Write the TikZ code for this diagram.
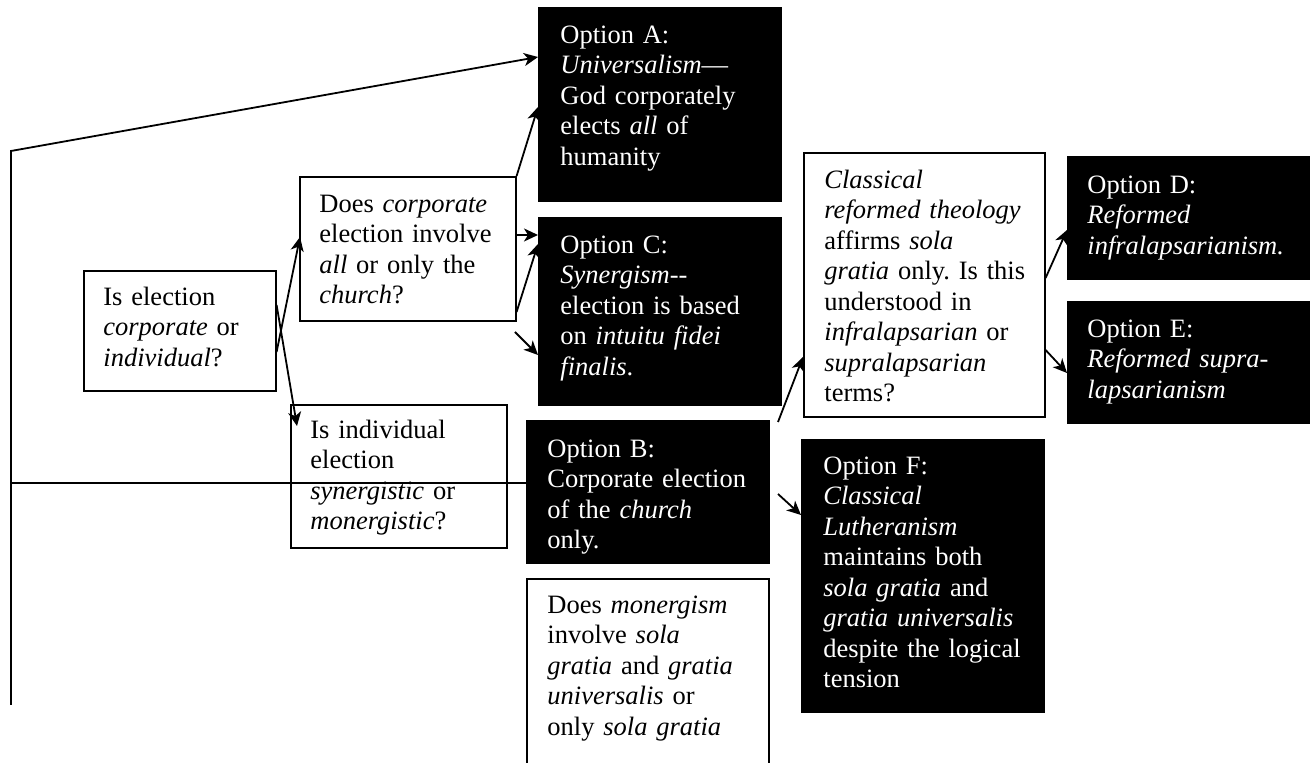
\documentclass[tikz,border=0pt]{standalone}
\usepackage{fontspec}
\setmainfont{Liberation Serif}
\usetikzlibrary{arrows.meta,calc}
\frenchspacing
\begin{document}
\begin{tikzpicture}[x=0.5pt,y=-0.5pt,
  wbox/.style={draw=black, line width=0.8pt, fill=white, inner sep=0pt, anchor=north west},
  bbox/.style={draw=black, line width=0.8pt, fill=black, inner sep=0pt, anchor=north west},
  wtxt/.style={anchor=north west, inner sep=0pt, text width=118pt, align=left,
    font=\fontsize{13.25}{15.25}\selectfont, text=black},
  btxt/.style={wtxt, text=white},
  conn/.style={line width=0.9pt, draw=black},
  arr/.style={conn, -{Stealth[length=7pt,width=6.5pt,inset=2pt]}}
]
\clip (0,0) rectangle (1313,763);
\fill[white] (0,0) rectangle (1313,763);

% boxes
\node[wbox, minimum width=96pt, minimum height=60pt] (Q1) at (83,270) {};
\node[wbox, minimum width=108pt, minimum height=72pt] (Q2) at (299,176) {};
\node[bbox, minimum width=121pt, minimum height=96.5pt] (A) at (538,7) {};
\node[bbox, minimum width=121pt, minimum height=93.5pt] (C) at (538,217) {};
\node[wbox, minimum width=108pt, minimum height=71.5pt] (Q3) at (290,404) {};
\node[bbox, minimum width=121pt, minimum height=71pt] (B) at (526,420) {};
\node[wbox, minimum width=121pt, minimum height=106pt] (Q4) at (526,578) {};
\node[wbox, minimum width=120.5pt, minimum height=132pt] (Cl) at (803,152) {};
\node[bbox, minimum width=120.5pt, minimum height=61pt] (D) at (1067,156) {};
\node[bbox, minimum width=120.5pt, minimum height=60.5pt] (E) at (1067,301) {};
\node[bbox, minimum width=121pt, minimum height=136pt] (F) at (801,439) {};

% texts
\node[wtxt] (Q1t) at (103,283.65) {\strut Is election\\\textit{corporate} or\\\textit{individual}?};
\node[wtxt] (Q2t) at (319,190.65) {\strut\makebox[88pt][s]{Does \textit{corporate}}\\
  \makebox[88pt][s]{election involve}\\\makebox[88pt][s]{\textit{all} or only the}\\\textit{church}?};
\node[btxt] (At) at (560,21.65) {\strut Option A:\\\textit{Universalism}---\\God corporately\\elects \textit{all} of\\humanity};
\node[btxt] (Ct) at (560,231.65) {\strut Option C:\\\textit{Synergism}-{}-\\election is based\\on \textit{intuitu fidei}\\\textit{finalis}.};
\node[wtxt] (Q3t) at (310,416.65) {\strut Is individual\\election\\\textit{synergistic} or\\\textit{monergistic}?};
\node[btxt] (Bt) at (547,435.65) {\strut Option B:\\Corporate election\\of the \textit{church}\\only.};
\node[wtxt] (Q4t) at (547,591.65) {\strut Does \textit{monergism}\\involve \textit{sola}\\\textit{gratia} and \textit{gratia}\\\textit{universalis} or\\only \textit{sola gratia}};
\node[wtxt] (Clt) at (824,166.65) {\strut\textit{Classical}\\\textit{reformed theology}\\affirms \textit{sola}\\\textit{gratia} only. Is this\\understood in\\\textit{infralapsarian} or\\\textit{supralapsarian}\\terms?};
\node[btxt] (Dt) at (1087,171.65) {\strut Option D:\\\textit{Reformed}\\\textit{infralapsarianism.}};
\node[btxt] (Et) at (1087,315.65) {\strut Option E:\\\textit{Reformed supra-}\\\textit{lapsarianism}};
\node[btxt] (Ft) at (823,452.65) {\strut Option F:\\\textit{Classical}\\\textit{Lutheranism}\\maintains both\\\textit{sola gratia} and\\\textit{gratia universalis}\\despite the logical\\tension};

% free ends
\coordinate (lb) at (11,705);
\coordinate (lt) at (11,151);
\coordinate (lm) at (11,483);
\coordinate (f1) at (515,332);
\coordinate (f2) at (778,422);
\coordinate (f3) at (778,494);

% connectors
\draw[arr] (lb) -- (lt) -- ($(A.north west)+(0,50)$);
\draw[conn] (lm) -- ($(B.north west)+(0,63)$);
\draw[arr] ($(Q1.north east)+(0,82)$) -- ($(Q2.north west)+(1,61)$);
\draw[arr] ($(Q1.north east)+(0,35)$) -- ($(Q3.north west)+(7,22)$);
\draw[arr] (Q2.north east) -- ($(A.north west)+(0,100)$);
\draw[arr] ($(Q2.north east)+(0,59)$) -- ($(C.north west)+(0,18)$);
\draw[arr] ($(Q2.north east)+(0,136)$) -- ($(C.north west)+(0,27)$);
\draw[arr] (f1) -- ($(C.north west)+(0,138)$);
\draw[arr] (f2) -- ($(Cl.north west)+(0,205)$);
\draw[arr] (f3) -- ($(F.north west)+(0,76)$);
\draw[arr] ($(Cl.north east)+(0,126)$) -- ($(D.north west)+(0,74)$);
\draw[arr] ($(Cl.north east)+(0,198)$) -- ($(E.north west)+(0,72)$);
\end{tikzpicture}
\end{document}
